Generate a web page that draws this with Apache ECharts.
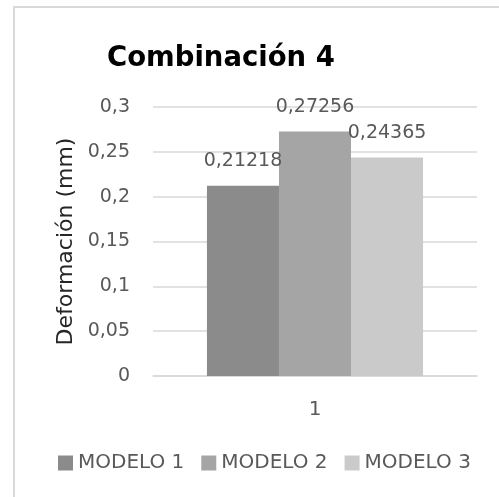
<!DOCTYPE html>
<html>
<head>
<meta charset="utf-8">
<script src="https://cdn.jsdelivr.net/npm/echarts@6/dist/echarts.min.js"></script>
<style>
  html, body { margin: 0; padding: 0; background: #ffffff; }
  #chart { width: 499px; height: 497px; }
</style>
</head>
<body>
<div id="chart"></div>
<script>
// Deformation results, load combination 4
const categories = ['1'];
const seriesNames = ['MODELO 1', 'MODELO 2', 'MODELO 3'];
const modelo1 = [0.21218];
const modelo2 = [0.27256];
const modelo3 = [0.24365];
const yTicks = [0, 0.05, 0.1, 0.15, 0.2, 0.25, 0.3];

const FONT = 'DejaVu Sans';
const colors = ['#8b8b8b', '#a5a5a5', '#cacaca'];
const comma = v => String(v).replace('.', ',');

const chart = echarts.init(document.getElementById('chart'), null, { renderer: 'canvas' });

const makeSeries = (name, data, color) => ({
  name: name,
  type: 'bar',
  data: data,
  barGap: '0%',
  barCategoryGap: '33.3%',
  itemStyle: { color: color },
  label: {
    show: true,
    position: 'top',
    distance: 15,
    color: '#595959',
    fontFamily: FONT,
    fontSize: 19,
    formatter: p => comma(p.value)
  },
  emphasis: { disabled: true }
});

chart.setOption({
  animation: false,
  backgroundColor: '#ffffff',
  title: {
    text: 'Combinación 4',
    left: 102,
    top: 40,
    textStyle: { fontFamily: FONT, fontWeight: 'bold', fontSize: 27.5, color: '#000000' }
  },
  graphic: [{
    type: 'rect',
    shape: { x: 14, y: 7, width: 520, height: 520 },
    style: { fill: 'none', stroke: '#d9d9d9', lineWidth: 2 },
    silent: true
  }],
  legend: {
    data: seriesNames,
    left: 53,
    top: 448,
    itemWidth: 15,
    itemHeight: 15,
    itemGap: 17,
    icon: 'rect',
    textStyle: { fontFamily: FONT, fontSize: 20, color: '#595959' }
  },
  grid: { left: 153, right: 22, top: 107, bottom: 121, containLabel: false },
  xAxis: {
    type: 'category',
    data: categories,
    axisLine: { show: true, lineStyle: { color: '#d9d9d9', width: 1.5 } },
    axisTick: { show: false },
    axisLabel: { fontFamily: FONT, fontSize: 20, color: '#595959', margin: 24 }
  },
  yAxis: {
    type: 'value',
    min: yTicks[0],
    max: yTicks[yTicks.length - 1],
    interval: yTicks[1] - yTicks[0],
    name: 'Deformación (mm)',
    nameLocation: 'middle',
    nameGap: 74,
    nameTextStyle: { fontFamily: FONT, fontSize: 22, color: '#262626' },
    axisLine: { show: false },
    axisTick: { show: false },
    splitLine: { lineStyle: { color: '#d9d9d9', width: 1.5 } },
    axisLabel: {
      fontFamily: FONT, fontSize: 19, color: '#595959', margin: 23,
      formatter: v => comma(+v.toFixed(2))
    }
  },
  series: [
    makeSeries(seriesNames[0], modelo1, colors[0]),
    makeSeries(seriesNames[1], modelo2, colors[1]),
    makeSeries(seriesNames[2], modelo3, colors[2])
  ]
});
</script>
</body>
</html>
